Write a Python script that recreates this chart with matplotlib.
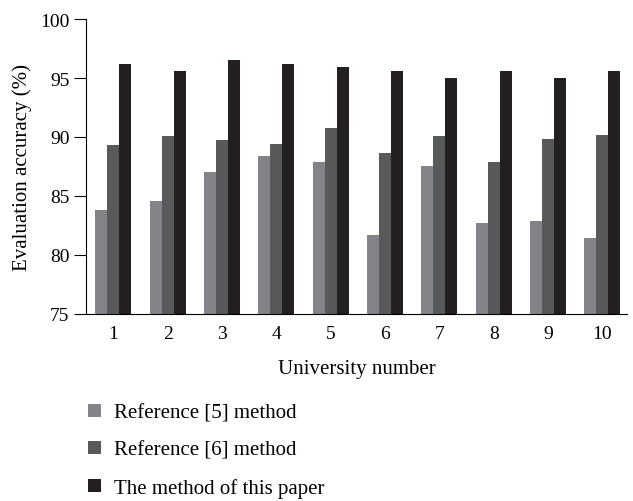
import numpy as np
import matplotlib
matplotlib.use('Agg')
from matplotlib import pyplot as plt

plt.rcParams['font.family'] = ['Liberation Serif', 'DejaVu Serif']

universities = [1, 2, 3, 4, 5, 6, 7, 8, 9, 10]
ref5 = [83.8, 84.6, 87.0, 88.4, 87.9, 81.7, 87.5, 82.7, 82.9, 81.4]
ref6 = [89.3, 90.1, 89.7, 89.4, 90.8, 88.6, 90.1, 87.9, 89.8, 90.2]
ours = [96.2, 95.6, 96.5, 96.2, 95.9, 95.6, 95.0, 95.6, 95.0, 95.6]
labels = ['Reference [5] method', 'Reference [6] method', 'The method of this paper']
colors = ['#848488', '#58595b', '#231f20']

fig = plt.figure(figsize=(6.33, 5.02), dpi=100)
ax = fig.add_axes([0.136, 0.373, 0.855, 0.587])

x = np.array(universities)
w = 0.22
for i, (vals, lab, col) in enumerate(zip([ref5, ref6, ours], labels, colors)):
    ax.bar(x + (i - 1) * w, vals, width=w, color=col, label=lab)

ax.set_ylim(75, 100)
ax.set_xlim(0.5, 10.46)
ax.set_yticks([75, 80, 85, 90, 95, 100])
ax.set_xticks(universities)
ax.tick_params(axis='y', labelsize=14, length=9, width=0.8, direction='out', pad=3)
ax.tick_params(axis='x', labelsize=14, length=0, pad=8)
ax.spines['top'].set_visible(False)
ax.spines['right'].set_visible(False)
ax.set_xlabel('University number', fontsize=15, labelpad=12)
ax.set_ylabel('Evaluation accuracy (%)', fontsize=15, labelpad=6)

handles, labs = ax.get_legend_handles_labels()
fig.legend(handles, labs, loc='upper left', bbox_to_anchor=(0.109, 0.231),
           frameon=False, fontsize=15, handlelength=0.63, handleheight=0.63,
           handletextpad=0.65, labelspacing=0.86)

plt.savefig('out.png', dpi=100)
